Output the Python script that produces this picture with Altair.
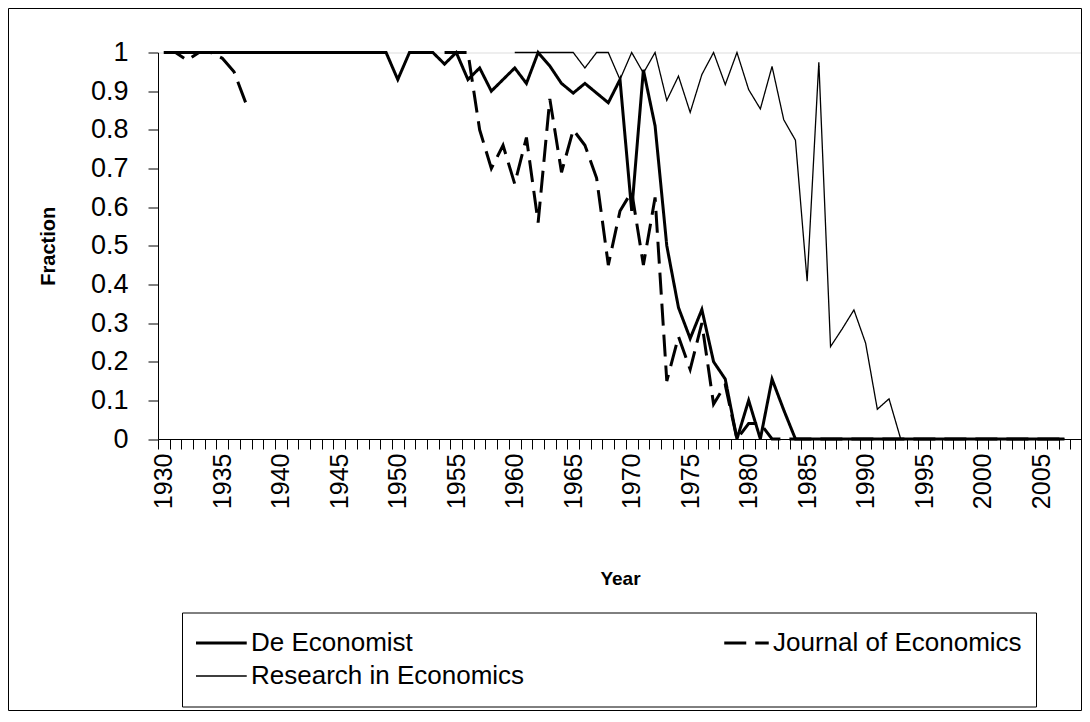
import altair as alt
import pandas as pd

years = list(range(1930, 2009))
series_names = ["De Economist", "Journal of Economics", "Research in Economics"]
series_widths = [3, 3, 1.3]
# legend/scale order: filled column by column (2 rows x 2 columns)
legend_order = ["De Economist", "Research in Economics", "Journal of Economics"]
legend_dashes = [[1, 0], [1, 0], [22, 9]]

de_economist = [
    1, 1, 1, 1, 1, 1, 1, 1, 1, 1,
    1, 1, 1, 1, 1, 1, 1, 1, 1, 1,
    0.93, 1, 1, 1, 0.97, 1, 0.93, 0.96, 0.90, 0.93,
    0.96, 0.92, 1, 0.965, 0.92, 0.895, 0.92, 0.895, 0.87, 0.93,
    0.59, 0.955, 0.81, 0.50, 0.34, 0.26, 0.335, 0.20, 0.155, 0,
    0.10, 0, 0.155, 0.075, 0, 0, 0, 0, 0, 0,
    0, 0, 0, 0, 0, 0, 0, 0, 0, 0,
    0, 0, 0, 0, 0, 0, 0, 0, None,
]
journal_of_economics = [
    1, 1, 0.98, 1, 1, 0.985, 0.95, 0.87, None, None,
    None, None, None, None, None, None, None, None, None, None,
    None, None, None, None, 1, 1, 1, 0.80, 0.70, 0.76,
    0.66, 0.78, 0.56, 0.88, 0.69, 0.80, 0.76, 0.675, 0.45, 0.59,
    0.64, 0.45, 0.625, 0.15, 0.265, 0.18, 0.30, 0.09, 0.14, 0,
    0.04, 0.04, 0, 0, 0, 0, 0, 0, 0, 0,
    0, 0, 0, 0, 0, 0, 0, 0, 0, 0,
    0, 0, 0, 0, 0, 0, 0, 0, None,
]
research_in_economics = [
    None, None, None, None, None, None, None, None, None, None,
    None, None, None, None, None, None, None, None, None, None,
    None, None, None, None, None, None, None, None, None, None,
    1, 1, 1, 1, 1, 1, 0.96, 1, 1, 0.93,
    1, 0.947, 1, 0.876, 0.939, 0.845, 0.943, 1, 0.917, 1,
    0.904, 0.854, 0.964, 0.826, 0.773, 0.408, 0.975, 0.239, 0.285, 0.334,
    0.248, 0.077, 0.104, 0, 0, 0, 0, 0, 0, 0,
    0, 0, 0, 0, 0, 0, 0, 0, None,
]
y_ticks = [0, 0.1, 0.2, 0.3, 0.4, 0.5, 0.6, 0.7, 0.8, 0.9, 1]

rows = []
for name, sw, vals in zip(series_names, series_widths,
                          [de_economist, journal_of_economics, research_in_economics]):
    for yr, v in zip(years, vals):
        rows.append({"year": yr, "series": name, "sw": sw, "value": v})
df = pd.DataFrame(rows)

FONT = "Liberation Sans"
W, H = 924, 386.5

legend_common = dict(
    title=None, orient="none", legendX=24, legendY=560, direction="vertical",
    columns=2, columnPadding=193, rowPadding=0, clipHeight=33,
    symbolType="stroke", symbolSize=5700,
    labelFont=FONT, labelFontSize=26,
    labelColor="black", labelOffset=29, labelLimit=400, padding=14,
    strokeColor="black", fillColor="white",
    symbolStrokeWidth=alt.ExprRef(expr="datum.value === 'Research in Economics' ? 1.3 : 3"),
)

lines = alt.Chart(df).mark_line(invalid="break-paths-show-domains").encode(
    x=alt.X(
        "year:O",
        bandPosition=0.5,
        scale=alt.Scale(type="band", domain=years, paddingInner=0, paddingOuter=0),
        axis=alt.Axis(
            title="Year",
            titleFont=FONT, titleFontSize=19, titleFontWeight="bold", titleColor="black",
            titleX=W / 2, titleY=139, titleAlign="center", titleBaseline="middle",
            labelExpr="datum.value % 5 == 0 ? datum.label : ''",
            labelAngle=270, labelFont=FONT, labelFontSize=25, labelColor="black",
            labelPadding=4, labelOverlap=False, labelFlush=False,
            tickBand="extent", tickSize=10, tickColor="black", domainColor="black",
            grid=False,
        ),
    ),
    y=alt.Y(
        "value:Q",
        scale=alt.Scale(domain=[0, 1], nice=False, zero=True),
        axis=alt.Axis(
            title="Fraction",
            titleFont=FONT, titleFontSize=20, titleFontWeight="bold", titleColor="black",
            titleX=-110, titleY=H / 2, titleAlign="center", titleBaseline="middle",
            values=y_ticks,
            labelExpr="format(datum.value, '.1~f')",
            labelFont=FONT, labelFontSize=27, labelColor="black", labelPadding=20,
            tickSize=10, tickColor="black", domainColor="black", grid=False,
        ),
    ),
    color=alt.Color(
        "series:N",
        sort=legend_order,
        scale=alt.Scale(domain=legend_order, range=["black", "black", "black"]),
        legend=alt.Legend(**legend_common),
    ),
    strokeDash=alt.StrokeDash(
        "series:N",
        sort=legend_order,
        scale=alt.Scale(domain=legend_order, range=legend_dashes),
        legend=alt.Legend(**legend_common),
    ),
    strokeWidth=alt.StrokeWidth("sw:Q", scale=None, legend=None),
)

frame = alt.Chart(pd.DataFrame({"k": [0]})).mark_rect(
    fillOpacity=0, stroke="black", strokeWidth=1
).encode(
    x=alt.value(-149.5), x2=alt.value(923.5), y=alt.value(-44), y2=alt.value(658)
)

chart = alt.layer(frame, lines).properties(
    width=W, height=H,
    autosize=alt.AutoSizeParams(type="none"),
    padding={"left": 150, "top": 44.5, "right": 0, "bottom": 272},
).configure_view(stroke=None).configure(background="white")

chart.save("out.html", embed_options={"renderer": "svg", "actions": False})
